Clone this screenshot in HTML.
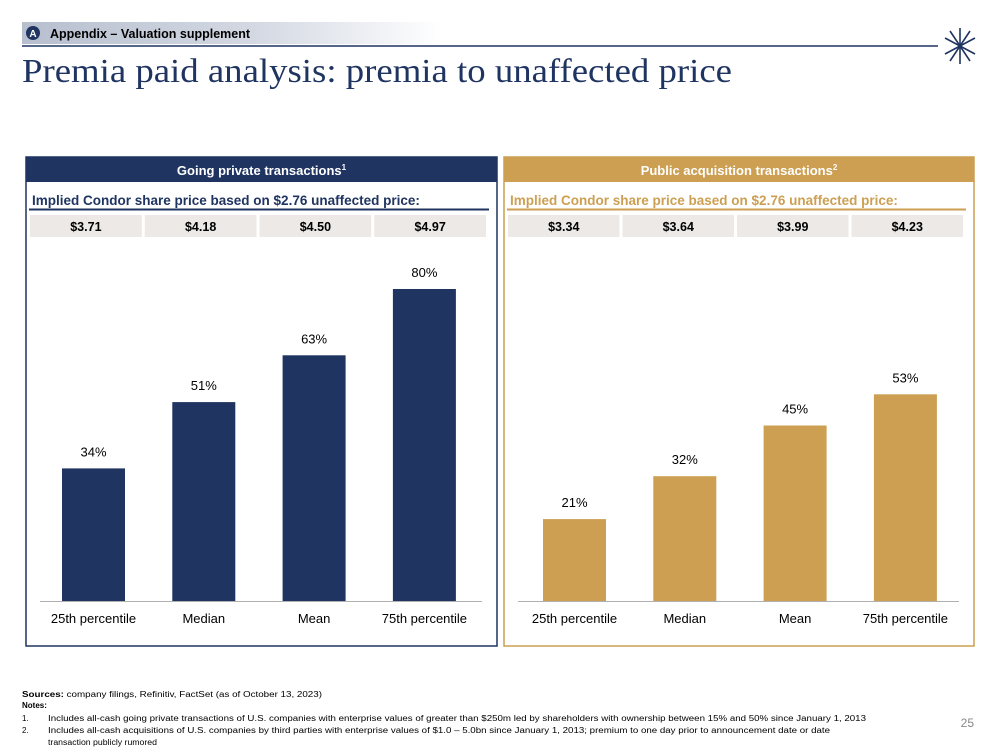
<!DOCTYPE html>
<html><head><meta charset="utf-8"><style>
body{margin:0;width:999px;height:750px;background:#fff;overflow:hidden;font-family:"Liberation Sans",Arial,sans-serif}
svg text{font-family:"Liberation Sans",Arial,sans-serif}
</style></head><body>
<svg id="s" width="999" height="750" viewBox="0 0 999 750" xmlns="http://www.w3.org/2000/svg">
<defs><linearGradient id="g" x1="0" x2="1"><stop offset="0" stop-color="#b7bfcf"/><stop offset="0.55" stop-color="#d3d8e2"/><stop offset="1" stop-color="#ffffff"/></linearGradient></defs>
<g>
<rect x="22" y="22" width="420" height="22" fill="url(#g)"/>
<circle cx="33" cy="33" r="7" fill="#1f3461"/>
<text x="33" y="37" font-size="10" font-weight="bold" fill="#fff" text-anchor="middle">A</text>
<text x="50" y="38" font-size="12.5" font-weight="bold" fill="#000">Appendix – Valuation supplement</text>
<line x1="22" y1="46" x2="938" y2="46" stroke="#1f3461" stroke-width="1.5"/>
<text x="22" y="82" font-size="34" fill="#1f3461" textLength="710" lengthAdjust="spacingAndGlyphs" style="font-family:'Liberation Serif',serif">Premia paid analysis: premia to unaffected price</text>
<g stroke="#1f3461" stroke-width="1.6">
<line x1="960" y1="28" x2="960" y2="64"/><line x1="950" y1="31" x2="970" y2="61"/><line x1="970" y1="31" x2="950" y2="61"/><line x1="945" y1="38" x2="975" y2="54"/><line x1="975" y1="38" x2="945" y2="54"/>
</g>
</g>
<g id="charts"></g>
<g font-size="8" fill="#000">
<text x="22" y="697" textLength="300" lengthAdjust="spacingAndGlyphs"><tspan font-weight="bold">Sources:</tspan> company filings, Refinitiv, FactSet (as of October 13, 2023)</text>
<text x="22" y="708" font-weight="bold">Notes:</text>
<text x="22" y="721">1.</text><text x="48" y="721" textLength="818" lengthAdjust="spacingAndGlyphs">Includes all-cash going private transactions of U.S. companies with enterprise values of greater than $250m led by shareholders with ownership between 15% and 50% since January 1, 2013</text>
<text x="22" y="733">2.</text><text x="48" y="733" textLength="782" lengthAdjust="spacingAndGlyphs">Includes all-cash acquisitions of U.S. companies by third parties with enterprise values of $1.0 – 5.0bn since January 1, 2013; premium to one day prior to announcement date or date</text>
<text x="48" y="745" textLength="109" lengthAdjust="spacingAndGlyphs">transaction publicly rumored</text>
<text x="974" y="727" font-size="12" fill="#888" text-anchor="end">25</text>
</g>
</svg>
<script>
const categories=["25th percentile","Median","Mean","75th percentile"];
const privateValues=[34,51,63,80];
const publicValues=[21,32,45,53];
const privatePrices=["$3.71","$4.18","$4.50","$4.97"];
const publicPrices=["$3.34","$3.64","$3.99","$4.23"];
const NS="http://www.w3.org/2000/svg";
const root=document.getElementById('charts');
function mk(tag,attrs,parent,txt){const e=document.createElementNS(NS,tag);for(const k in attrs)e.setAttribute(k,attrs[k]);if(txt!==undefined)e.textContent=txt;parent.appendChild(e);return e;}
function y(v){return 601-v*3.9;}
function panel(x0,w,color,title,sup,prices,values,name,subColor,off){
  const g=mk('g',{},root);
  
  
  mk('rect',{x:x0,y:157,width:w,height:489,fill:'#fff',stroke:color,'stroke-width':1.5},g);
  mk('rect',{x:x0,y:157,width:w,height:25,fill:color},g);
  const t=mk('text',{x:x0+w/2,y:175,'font-size':13,'font-weight':'bold',fill:'#fff','text-anchor':'middle'},g,title);
  mk('tspan',{'font-size':8,dy:-5},t,sup);
  const st=mk('text',{x:x0+6,y:205,'font-size':13.5,'font-weight':'bold',fill:subColor},g,'Implied Condor share price based on $2.76 unaffected price:');
  
  
  mk('line',{x1:x0+3,y1:209.5,x2:x0+w-8,y2:209.5,stroke:subColor,'stroke-width':2},g);
  const cw=(w-12)/4;
  prices.forEach((p,i)=>{
    const cx=x0+4+i*cw;
    const c=mk('rect',{x:cx,y:215,width:cw-3,height:22,fill:'#ece9e6'},g);
    
    
    mk('text',{x:cx+(cw-3)/2,y:231,'font-size':12.5,'font-weight':'bold',fill:'#000','text-anchor':'middle'},g,p);
  });
  const step=110.3, bw=63, bx0=x0+off;
  values.forEach((v,i)=>{
    const bx=bx0+i*step;
    const r=mk('rect',{x:bx,y:y(v),width:bw,height:601-y(v),fill:color},g);
    
    
    const l=mk('text',{x:bx+bw/2,y:y(v)-12,'font-size':13,fill:'#000','text-anchor':'middle'},g,v+'%');
    
    
    const c=mk('text',{x:bx+bw/2,y:623,'font-size':13,fill:'#000','text-anchor':'middle'},g,categories[i]);
    
    
  });
  mk('line',{x1:x0+14,y1:601.5,x2:x0+w-15,y2:601.5,stroke:'#b0b0b0','stroke-width':1},g);
}
panel(26,471,'#1f3461','Going private transactions','1',privatePrices,privateValues,'going-private','#1f3461',36);
panel(504,470,'#cc9f52','Public acquisition transactions','2',publicPrices,publicValues,'public-acquisition','#cc9f52',39);
</script>
</body></html>
